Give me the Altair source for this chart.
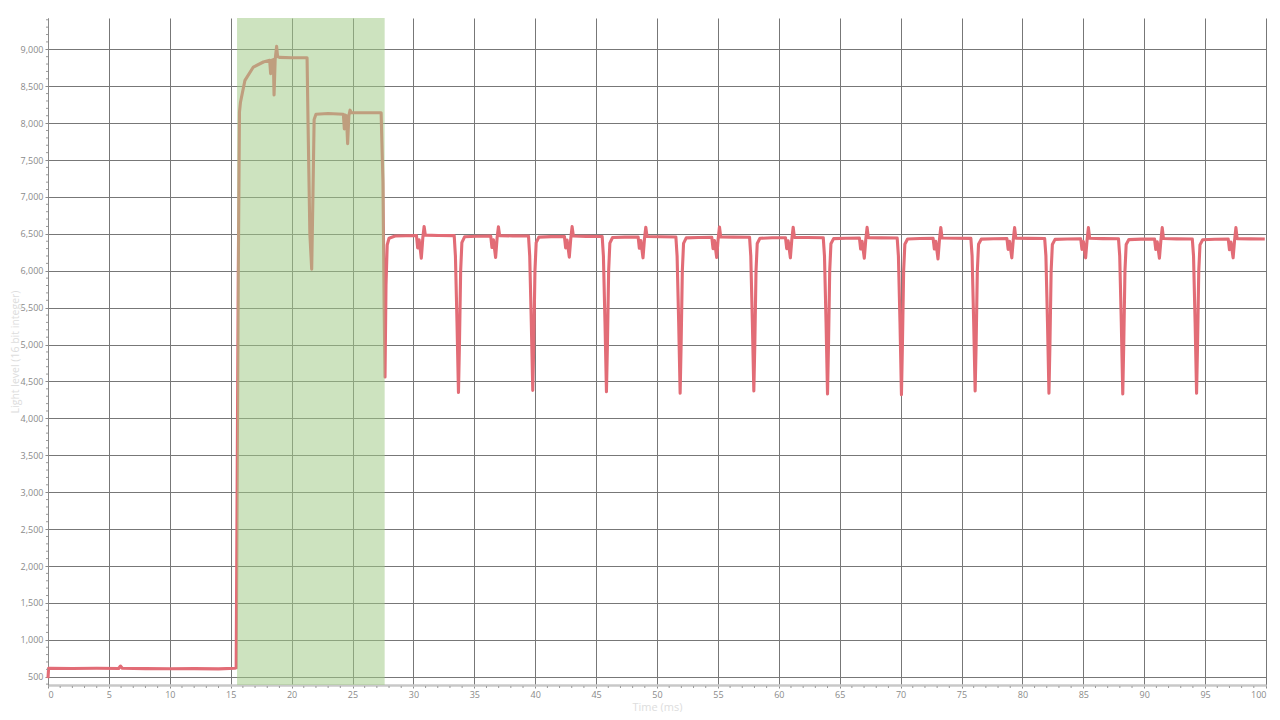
import altair as alt
import pandas as pd

# ---- data (time in ms, light level) ----
baseline = [(0.00, 480), (0.05, 615), (2.0, 612), (4.0, 615), (5.8, 612), (5.95, 645),
            (6.1, 615), (8.0, 610), (10.0, 608), (12.0, 610), (14.0, 607), (15.35, 615),
            (15.45, 620)]

flash = [(15.62, 5900), (15.72, 8150), (15.80, 8280), (16.17, 8580), (16.86, 8760),
         (17.68, 8828), (18.20, 8850), (18.28, 8670), (18.33, 8850), (18.50, 8860),
         (18.56, 8380), (18.65, 8860), (18.77, 9040), (18.85, 8900), (19.0, 8890),
         (20.0, 8885), (21.27, 8885), (21.35, 8000), (21.50, 6500), (21.65, 6020),
         (21.75, 7000), (21.85, 8050), (22.0, 8120), (23.0, 8130), (24.25, 8120),
         (24.33, 7920), (24.40, 8110), (24.50, 8100), (24.60, 7720), (24.70, 8100),
         (24.80, 8175), (24.90, 8140), (26.0, 8140), (27.35, 8140), (27.50, 7200),
         (27.60, 5500), (27.67, 4560), (27.75, 5800), (27.85, 6350), (28.0, 6440),
         (28.5, 6470)]

cycles_a = [(30.25, 6478), (30.35, 6310), (30.47, 6420), (30.65, 6170), (30.77, 6440),
            (30.88, 6600), (30.98, 6482), (32.05, 6478), (33.35, 6476), (33.45, 6200),
            (33.58, 5300), (33.70, 4350), (33.78, 5000), (33.88, 6000), (33.98, 6380),
            (34.20, 6460), (35.20, 6468),
            (36.35, 6470), (36.45, 6315), (36.57, 6420), (36.75, 6180), (36.87, 6440),
            (36.98, 6595), (37.08, 6476), (38.15, 6472), (39.45, 6470), (39.55, 6200),
            (39.68, 5300), (39.80, 4380), (39.88, 5000), (39.98, 6000), (40.08, 6380),
            (40.30, 6455), (41.30, 6462),
            (42.40, 6464), (42.50, 6310), (42.62, 6415), (42.80, 6185), (42.92, 6435),
            (43.03, 6598), (43.13, 6470), (44.20, 6466), (45.50, 6464), (45.60, 6200),
            (45.73, 5300), (45.85, 4360), (45.93, 5000), (46.03, 6000), (46.13, 6375),
            (46.35, 6450), (47.35, 6456),
            (48.45, 6458), (48.55, 6305), (48.67, 6410), (48.85, 6175), (48.97, 6430),
            (49.08, 6590), (49.18, 6464), (50.25, 6460), (51.55, 6458), (51.65, 6200),
            (51.78, 5300), (51.90, 4340), (51.98, 5000), (52.08, 6000), (52.18, 6370),
            (52.40, 6445), (53.40, 6450)]

cycles_b = [(54.50, 6452), (54.60, 6300), (54.72, 6410), (54.90, 6180), (55.02, 6430),
            (55.13, 6592), (55.23, 6458), (56.30, 6455), (57.60, 6453), (57.70, 6200),
            (57.83, 5300), (57.95, 4370), (58.03, 5000), (58.13, 6000), (58.23, 6370),
            (58.45, 6440), (59.45, 6446),
            (60.55, 6448), (60.65, 6300), (60.77, 6405), (60.95, 6175), (61.07, 6425),
            (61.18, 6590), (61.28, 6452), (62.35, 6450), (63.65, 6448), (63.75, 6200),
            (63.88, 5300), (64.00, 4330), (64.08, 5000), (64.18, 6000), (64.28, 6365),
            (64.50, 6435), (65.50, 6440),
            (66.62, 6442), (66.72, 6295), (66.84, 6400), (67.02, 6170), (67.14, 6420),
            (67.25, 6588), (67.35, 6448), (68.42, 6445), (69.72, 6443), (69.82, 6200),
            (69.95, 5300), (70.07, 4320), (70.15, 5000), (70.25, 6000), (70.35, 6360),
            (70.57, 6430), (71.57, 6436),
            (72.67, 6438), (72.77, 6295), (72.89, 6400), (73.07, 6160), (73.19, 6420),
            (73.30, 6586), (73.40, 6444), (74.47, 6440), (75.77, 6438), (75.87, 6200),
            (76.00, 5300), (76.12, 4370), (76.20, 5000), (76.30, 6000), (76.40, 6360),
            (76.62, 6428), (77.62, 6434)]

cycles_c = [(78.73, 6436), (78.83, 6290), (78.95, 6398), (79.13, 6175), (79.25, 6418),
            (79.36, 6585), (79.46, 6442), (80.53, 6438), (81.83, 6436), (81.93, 6200),
            (82.06, 5300), (82.18, 4340), (82.26, 5000), (82.36, 6000), (82.46, 6355),
            (82.68, 6425), (83.68, 6430),
            (84.79, 6432), (84.89, 6290), (85.01, 6395), (85.19, 6175), (85.31, 6415),
            (85.42, 6585), (85.52, 6440), (86.59, 6435), (87.89, 6433), (87.99, 6200),
            (88.12, 5300), (88.24, 4330), (88.32, 5000), (88.42, 6000), (88.52, 6355),
            (88.74, 6422), (89.74, 6428),
            (90.85, 6430), (90.95, 6288), (91.07, 6392), (91.25, 6170), (91.37, 6412),
            (91.48, 6584), (91.58, 6436), (92.65, 6432), (93.95, 6430), (94.05, 6200),
            (94.18, 5300), (94.30, 4340), (94.38, 5000), (94.48, 6000), (94.58, 6350),
            (94.80, 6420), (95.80, 6426),
            (96.90, 6428), (97.00, 6285), (97.12, 6390), (97.30, 6175), (97.42, 6410),
            (97.53, 6585), (97.63, 6435), (98.70, 6432), (99.90, 6430)]

band_start = [15.52]
band_end = [27.64]

x_ticks = list(range(0, 101, 5))
y_ticks = list(range(500, 9001, 500))
x_minor = [v for v in range(0, 101) if v % 5 != 0]
y_minor = [v for v in range(400, 9401, 100) if v % 500 != 0]

points = baseline + flash + cycles_a + cycles_b + cycles_c
df = pd.DataFrame(points, columns=["t", "v"])
band = pd.DataFrame({"start": band_start, "end": band_end})
xm = pd.DataFrame({"t": x_minor})
ym = pd.DataFrame({"v": y_minor})

W, H = 1218, 667
FONT = "Open Sans"

xscale = alt.Scale(domain=[0, 100], nice=False, zero=False)
yscale = alt.Scale(domain=[388, 9424], nice=False, zero=False)

x_axis = alt.Axis(title="Time (ms)", values=x_ticks, format="d", grid=True,
                  gridColor="#777777", gridWidth=1, labelOverlap=False,
                  domainColor="#c8c8c8", domainWidth=2.5,
                  tickColor="#8a8a8a", tickSize=3, labelPadding=2,
                  labelColor="#8a8a8a", labelFontSize=9, labelFont=FONT,
                  titleColor="#dddddd", titleFontSize=11, titleFont=FONT,
                  titleFontWeight="normal", titlePadding=2)
y_axis = alt.Axis(title="Light level (16 bit integer)", values=y_ticks, format=",d",
                  grid=True, gridColor="#777777", gridWidth=1,
                  labelOverlap=False, labelBound=False, labelFlush=False,
                  domainColor="#8a8a8a", domainWidth=1,
                  tickColor="#8a8a8a", tickSize=3, labelPadding=2,
                  labelColor="#8a8a8a", labelFontSize=9, labelFont=FONT,
                  titleColor="#dddddd", titleFontSize=10.5, titleFont=FONT,
                  titleFontWeight="normal", titlePadding=0)

line = alt.Chart(df).mark_line(color="#e26c76", strokeWidth=3.1, strokeJoin="round").encode(
    x=alt.X("t:Q", scale=xscale, axis=x_axis),
    y=alt.Y("v:Q", scale=yscale, axis=y_axis),
    order="t:Q",
)

shade = alt.Chart(band).mark_rect(color="#a1ca86", opacity=0.53).encode(
    x=alt.X("start:Q", scale=xscale, axis=x_axis),
    x2="end:Q",
    y=alt.value(0),
    y2=alt.value(H),
)

xminor = alt.Chart(xm).mark_rule(color="#9a9a9a", strokeWidth=1).encode(
    x=alt.X("t:Q", scale=xscale, axis=x_axis),
    y=alt.value(H + 1),
    y2=alt.value(H + 3),
)

yminor = alt.Chart(ym).mark_rule(color="#9a9a9a", strokeWidth=1).encode(
    y=alt.Y("v:Q", scale=yscale, axis=y_axis),
    x=alt.value(-2),
    x2=alt.value(0),
)

chart = alt.layer(line, shade, xminor, yminor).properties(
    width=W, height=H,
    autosize=alt.AutoSizeParams(type="none"),
    padding={"left": 40, "top": 10, "right": 6, "bottom": 27},
).configure_view(strokeWidth=0).configure_axis(labelOverlap=False)

chart.save("out.html", embed_options={"renderer": "svg", "actions": False})
